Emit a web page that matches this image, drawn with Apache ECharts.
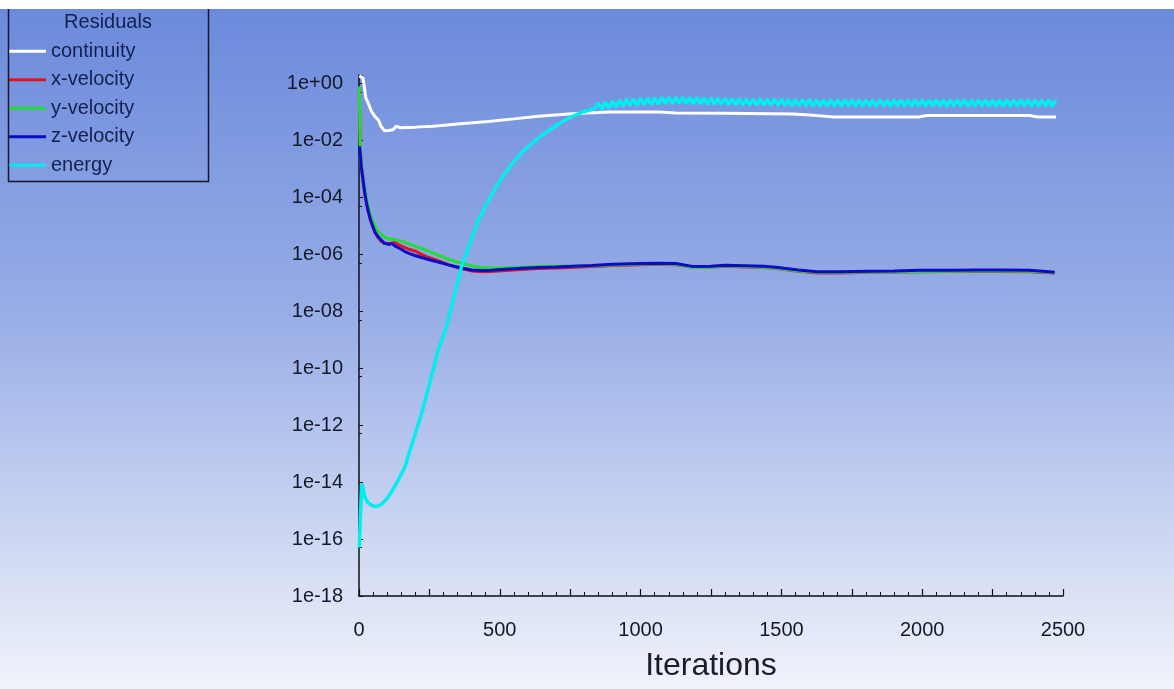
<!DOCTYPE html>
<html><head><meta charset="utf-8">
<script src="https://cdn.jsdelivr.net/npm/echarts@6/dist/echarts.min.js"></script>
<style>html,body{margin:0;padding:0;background:#ffffff}#c{width:1174px;height:689px}</style>
</head><body><div id="c"></div>
<script>
// ---------- DATA (residuals stored as log10 exponents) ----------
const seriesNames = ['continuity', 'x-velocity', 'y-velocity', 'z-velocity', 'energy'];
const legendTitle = 'Residuals';
const xAxisTitle = 'Iterations';
const xTickLabels = [0, 500, 1000, 1500, 2000, 2500];
const yTickExponents = [0, -2, -4, -6, -8, -10, -12, -14, -16, -18];

const continuityIter = [1, 8, 14, 20, 24, 32, 44, 50, 56, 62, 70, 78, 91, 105, 121, 132, 145, 200, 263, 350, 459, 550, 637, 755, 851, 887, 1000, 1065, 1125, 1300, 1539, 1600, 1681, 1800, 1991, 2015, 2200, 2382, 2407, 2475];
const continuityLog10 = [0.27, 0.25, 0.2, -0.2, -0.49, -0.67, -0.97, -1.0, -1.15, -1.12, -1.3, -1.5, -1.66, -1.65, -1.62, -1.5, -1.55, -1.53, -1.5, -1.42, -1.33, -1.24, -1.15, -1.06, -1.02, -1.0, -1.0, -1.0, -1.03, -1.04, -1.07, -1.1, -1.17, -1.17, -1.17, -1.12, -1.12, -1.12, -1.17, -1.17];

const velocityIter = [1, 3, 5, 8, 12, 16, 20, 26, 32, 40, 48, 56, 66, 79, 91, 105, 118, 127, 135, 150, 163, 180, 198, 222, 250, 281, 317, 360, 400, 435, 470, 520, 577, 637, 700, 755, 826, 900, 1000, 1060, 1125, 1189, 1250, 1300, 1370, 1438, 1481, 1510, 1560, 1627, 1700, 1816, 1900, 1991, 2100, 2200, 2279, 2380, 2440, 2470];
const xVelocityLog10 = [-0.2, -1.6, -2.4, -2.95, -3.25, -3.55, -3.85, -4.2, -4.48, -4.78, -5.0, -5.22, -5.38, -5.55, -5.62, -5.62, -5.6, -5.58, -5.63, -5.7, -5.76, -5.83, -5.88, -6.0, -6.12, -6.22, -6.36, -6.5, -6.58, -6.61, -6.6, -6.57, -6.53, -6.5, -6.48, -6.46, -6.43, -6.39, -6.36, -6.35, -6.36, -6.46, -6.45, -6.42, -6.44, -6.46, -6.49, -6.53, -6.59, -6.65, -6.65, -6.63, -6.62, -6.61, -6.6, -6.6, -6.6, -6.61, -6.64, -6.66];
const yVelocityLog10 = [-0.1, -1.5, -2.3, -2.8, -3.15, -3.45, -3.65, -4.0, -4.3, -4.6, -4.8, -4.98, -5.15, -5.32, -5.4, -5.45, -5.47, -5.48, -5.5, -5.53, -5.58, -5.64, -5.7, -5.79, -5.9, -6.03, -6.17, -6.3, -6.4, -6.46, -6.48, -6.47, -6.45, -6.42, -6.42, -6.41, -6.4, -6.37, -6.34, -6.34, -6.35, -6.46, -6.45, -6.4, -6.43, -6.45, -6.48, -6.52, -6.58, -6.63, -6.63, -6.62, -6.61, -6.6, -6.59, -6.58, -6.58, -6.59, -6.62, -6.65];
const zVelocityLog10 = [-2.2, -2.3, -2.5, -2.9, -3.2, -3.5, -3.8, -4.15, -4.44, -4.75, -4.98, -5.2, -5.36, -5.5, -5.61, -5.65, -5.62, -5.7, -5.74, -5.82, -5.9, -5.97, -6.04, -6.11, -6.19, -6.27, -6.37, -6.47, -6.55, -6.57, -6.56, -6.52, -6.49, -6.46, -6.44, -6.42, -6.39, -6.35, -6.32, -6.31, -6.32, -6.43, -6.42, -6.38, -6.4, -6.42, -6.45, -6.49, -6.55, -6.61, -6.61, -6.59, -6.58, -6.56, -6.56, -6.55, -6.55, -6.56, -6.6, -6.63];

const energyRampIter = [1, 5, 10, 14, 20, 30, 45, 62, 80, 103, 130, 163, 190, 222, 250, 281, 310, 335, 364, 395, 424, 460, 495, 535, 577, 620, 662, 709, 755, 800, 837];
const energyRampLog10 = [-16.3, -15.2, -14.05, -14.2, -14.5, -14.7, -14.82, -14.86, -14.78, -14.53, -14.1, -13.47, -12.6, -11.6, -10.55, -9.37, -8.55, -7.6, -6.43, -5.56, -4.79, -4.1, -3.49, -2.92, -2.43, -2.05, -1.73, -1.42, -1.16, -0.98, -0.88];
// oscillating plateau, one value every half period of the zig-zag
const energyOscStartIter = 850;
const energyOscStepIter = 12.5;
const energyOscLog10 = [
  -0.69, -0.91, -0.65, -0.87, -0.61, -0.83, -0.58, -0.80, -0.55, -0.77,
  -0.535, -0.755, -0.52, -0.74, -0.51, -0.73, -0.50, -0.72, -0.49, -0.71,
  -0.48, -0.70, -0.48, -0.70, -0.48, -0.70, -0.49, -0.71, -0.49, -0.71,
  -0.50, -0.72, -0.51, -0.73, -0.51, -0.73, -0.52, -0.74, -0.53, -0.75,
  -0.54, -0.76, -0.54, -0.76, -0.55, -0.76, -0.54, -0.77, -0.55, -0.76,
  -0.55, -0.77, -0.55, -0.77, -0.56, -0.78, -0.56, -0.78, -0.56, -0.78,
  -0.56, -0.79, -0.57, -0.79, -0.57, -0.79, -0.57, -0.79, -0.57, -0.80,
  -0.57, -0.79, -0.57, -0.80, -0.58, -0.79, -0.57, -0.79, -0.57, -0.80,
  -0.57, -0.79, -0.58, -0.80, -0.57, -0.79, -0.57, -0.79, -0.58, -0.80,
  -0.57, -0.79, -0.57, -0.80, -0.58, -0.79, -0.57, -0.79, -0.57, -0.80,
  -0.58, -0.79, -0.57, -0.79, -0.57, -0.80, -0.58, -0.80, -0.57, -0.79,
  -0.57, -0.79, -0.58, -0.80, -0.57, -0.79, -0.57, -0.80, -0.58, -0.79,
  -0.57, -0.79, -0.57, -0.80, -0.58, -0.79, -0.57, -0.79, -0.57, -0.80,
  -0.57
];

// ---------- BUILD ----------
function pairs(iters, logs) { return iters.map((it, i) => [it, Math.pow(10, logs[i])]); }
const energyIter = energyRampIter.concat(energyOscLog10.map((_, i) => energyOscStartIter + i * energyOscStepIter));
const energyLog10 = energyRampLog10.concat(energyOscLog10);

const colors = ['#ffffff', '#e01420', '#22dd33', '#0a0ac8', '#00eeee'];
const seriesData = [
  pairs(continuityIter, continuityLog10),
  pairs(velocityIter, xVelocityLog10),
  pairs(velocityIter, yVelocityLog10),
  pairs(velocityIter, zVelocityLog10),
  pairs(energyIter, energyLog10)
];

const FONT = "'Liberation Sans', Arial, sans-serif";
const chart = echarts.init(document.getElementById('c'));
chart.setOption({
  animation: false,
  backgroundColor: {
    type: 'linear', x: 0, y: 0, x2: 0, y2: 1,
    colorStops: [
      { offset: 0, color: '#6a89db' },
      { offset: 0.45, color: '#97ade6' },
      { offset: 1, color: '#f1f3fb' }
    ]
  },
  graphic: [
    { type: 'rect', left: 0, top: 0, z: 100, shape: { width: 1174, height: 9 }, style: { fill: '#ffffff' } },
    { type: 'rect', z: 50, shape: { x: 8.5, y: -2, width: 200, height: 183.5 }, style: { fill: 'none', stroke: '#16182a', lineWidth: 1.5 } },
    { type: 'text', z: 50, x: 108, y: 22, style: { text: legendTitle, font: "20px " + FONT, fill: '#142050', align: 'center', verticalAlign: 'middle' } }
  ],
  legend: {
    data: seriesNames,
    orient: 'vertical',
    left: 9, top: 37,
    padding: 0,
    itemGap: 0,
    itemWidth: 37, itemHeight: 3,
    icon: 'rect',
    textStyle: { fontFamily: FONT, fontSize: 20, color: '#142050', lineHeight: 28.5 }
  },
  grid: { left: 359, right: 111, top: 75, bottom: 93 },
  xAxis: {
    type: 'value', min: 0, max: 2500, interval: 250,
    name: xAxisTitle, nameLocation: 'middle', nameGap: 54,
    nameTextStyle: { fontFamily: FONT, fontSize: 32, color: '#1a1c2c' },
    axisLine: { show: true, lineStyle: { color: '#111111', width: 1.5 } },
    axisTick: { show: true, inside: true, length: 7, lineStyle: { color: '#111111', width: 1.2 } },
    minorTick: { show: true, splitNumber: 5, length: 4, lineStyle: { color: '#111111', width: 1 } },
    splitLine: { show: false },
    axisLabel: {
      interval: 0, margin: 24, fontFamily: FONT, fontSize: 20, color: '#141828',
      formatter: v => xTickLabels.indexOf(v) >= 0 ? String(v) : ''
    }
  },
  yAxis: {
    type: 'log', logBase: 10, min: 1e-18, max: 2, interval: 2,
    axisLine: { show: true, lineStyle: { color: '#111111', width: 1.5 } },
    axisTick: { show: true, inside: true, length: 4, lineStyle: { color: '#111111' } },
    minorTick: { show: true, splitNumber: 2, length: 3, lineStyle: { color: '#111111' } },
    splitLine: { show: false },
    axisLabel: {
      margin: 16, fontFamily: FONT, fontSize: 20, color: '#141828',
      showMaxLabel: false,
      formatter: v => {
        const e = Math.log10(v), r = Math.round(e);
        if (Math.abs(e - r) > 1e-6 || yTickExponents.indexOf(r) < 0) return '';
        return '1e' + (r < 0 ? '-' : '+') + String(Math.abs(r)).padStart(2, '0');
      }
    }
  },
  series: seriesNames.map((name, i) => ({
    name, type: 'line', data: seriesData[i], showSymbol: false, symbol: 'none',
    clip: true,
    color: colors[i],
    itemStyle: { color: colors[i] },
    lineStyle: { color: colors[i], width: i === 4 ? 3.5 : 3 }
  }))
});
</script></body></html>
